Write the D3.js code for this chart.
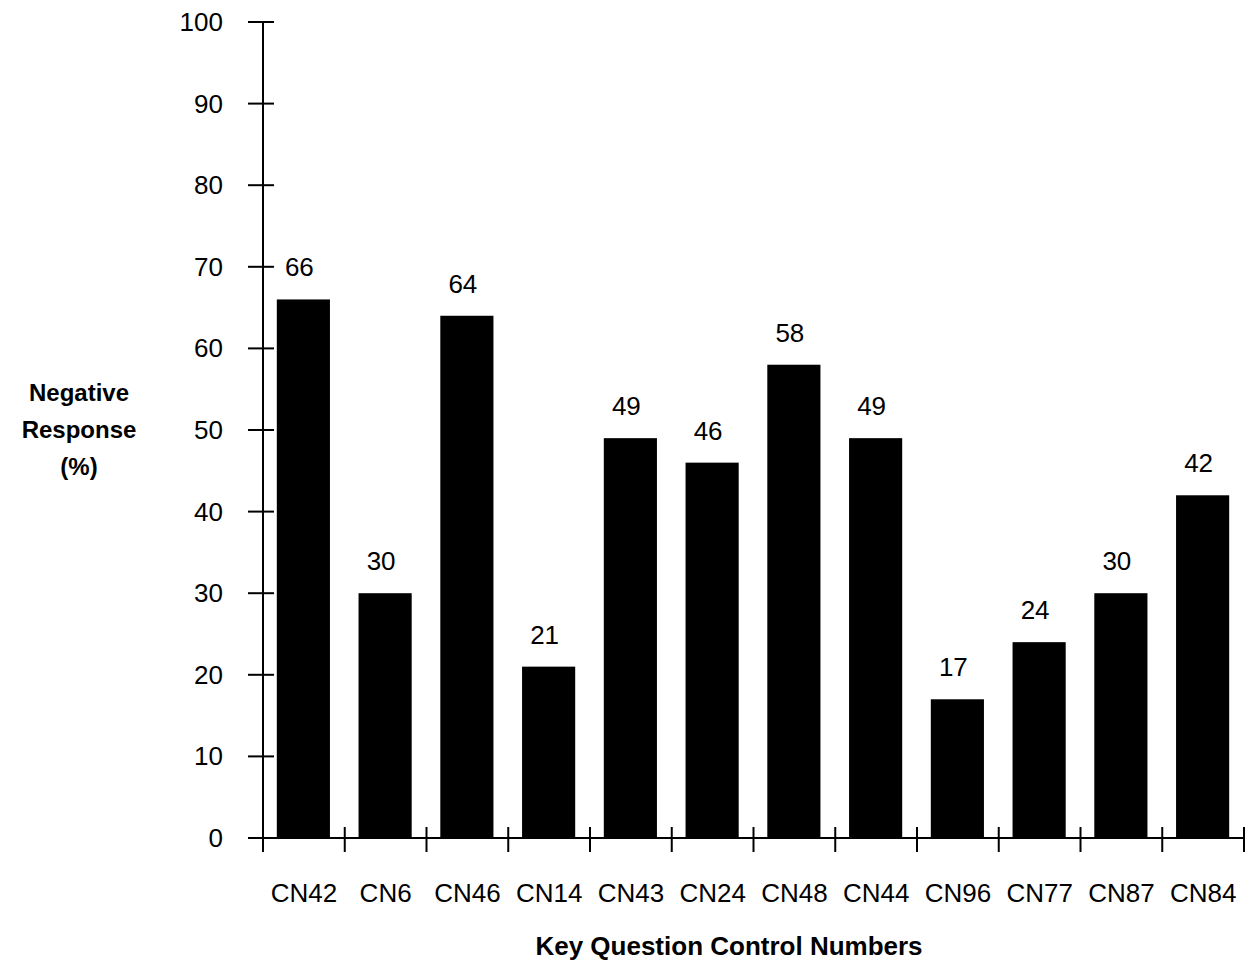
<!DOCTYPE html>
<html><head><meta charset="utf-8">
<script src="https://cdn.jsdelivr.net/npm/d3@7"></script>
<style>body{margin:0;background:#fff;} text{font-family:"Liberation Sans",Arial,sans-serif;}</style>
</head><body>
<svg id="c" width="1254" height="965"></svg>
<script>
const categories = ["CN42","CN6","CN46","CN14","CN43","CN24","CN48","CN44","CN96","CN77","CN87","CN84"];
const values = [66,30,64,21,49,46,58,49,17,24,30,42];
const yTicks = [0,10,20,30,40,50,60,70,80,90,100];
const yTitle = ["Negative","Response","(%)"];
const xTitle = "Key Question Control Numbers";

const svg = d3.select("#c");
const x0 = 263, x1 = 1244, yTop = 22, yBot = 838;
const x = d3.scaleBand().domain(categories).range([x0, x1]).paddingInner(0).paddingOuter(0);
const y = d3.scaleLinear().domain([0,100]).range([yBot, yTop]);
const barW = x.bandwidth() * 0.65;
const fs = 26;

svg.selectAll("rect.bar").data(values).enter().append("rect")
  .attr("x", (d,i) => x(categories[i]) + x.bandwidth()/2 - barW/2 - 0.5)
  .attr("y", d => y(d))
  .attr("width", barW)
  .attr("height", d => y(0) - y(d))
  .attr("fill", "#000");

svg.selectAll("text.val").data(values).enter().append("text")
  .attr("x", (d,i) => x(categories[i]) + x.bandwidth()/2 - 4.5)
  .attr("y", d => y(d) - 23)
  .attr("text-anchor","middle").attr("font-size", fs).text(d => d);

// y axis
const ya = svg.append("g");
ya.append("line").attr("x1",x0).attr("x2",x0).attr("y1",yTop).attr("y2",yBot).attr("stroke","#000").attr("stroke-width",2);
yTicks.forEach(t => {
  ya.append("line").attr("x1",x0-15).attr("x2",x0+11).attr("y1",y(t)).attr("y2",y(t)).attr("stroke","#000").attr("stroke-width",2);
  ya.append("text").attr("x",x0-40).attr("y",y(t)+9).attr("text-anchor","end").attr("font-size",fs).text(t);
});

// x axis
const xa = svg.append("g");
xa.append("line").attr("x1",x0-15).attr("x2",x1).attr("y1",yBot).attr("y2",yBot).attr("stroke","#000").attr("stroke-width",2);
const bounds = categories.map(c => x(c)).concat([x1]);
bounds.forEach(b => {
  xa.append("line").attr("x1",b).attr("x2",b).attr("y1",yBot-11).attr("y2",yBot+14).attr("stroke","#000").attr("stroke-width",2);
});
categories.forEach(c => {
  xa.append("text").attr("x", x(c)+x.bandwidth()/2).attr("y", 902).attr("text-anchor","middle").attr("font-size",fs).text(c);
});

svg.append("text").attr("x", 729).attr("y", 955).attr("text-anchor","middle").attr("font-size",fs).attr("font-weight","bold").text(xTitle);
yTitle.forEach((t,i) => {
  svg.append("text").attr("x", 79).attr("y", 401 + i*37).attr("text-anchor","middle").attr("font-size",24).attr("font-weight","bold").text(t);
});
</script>
</body></html>
